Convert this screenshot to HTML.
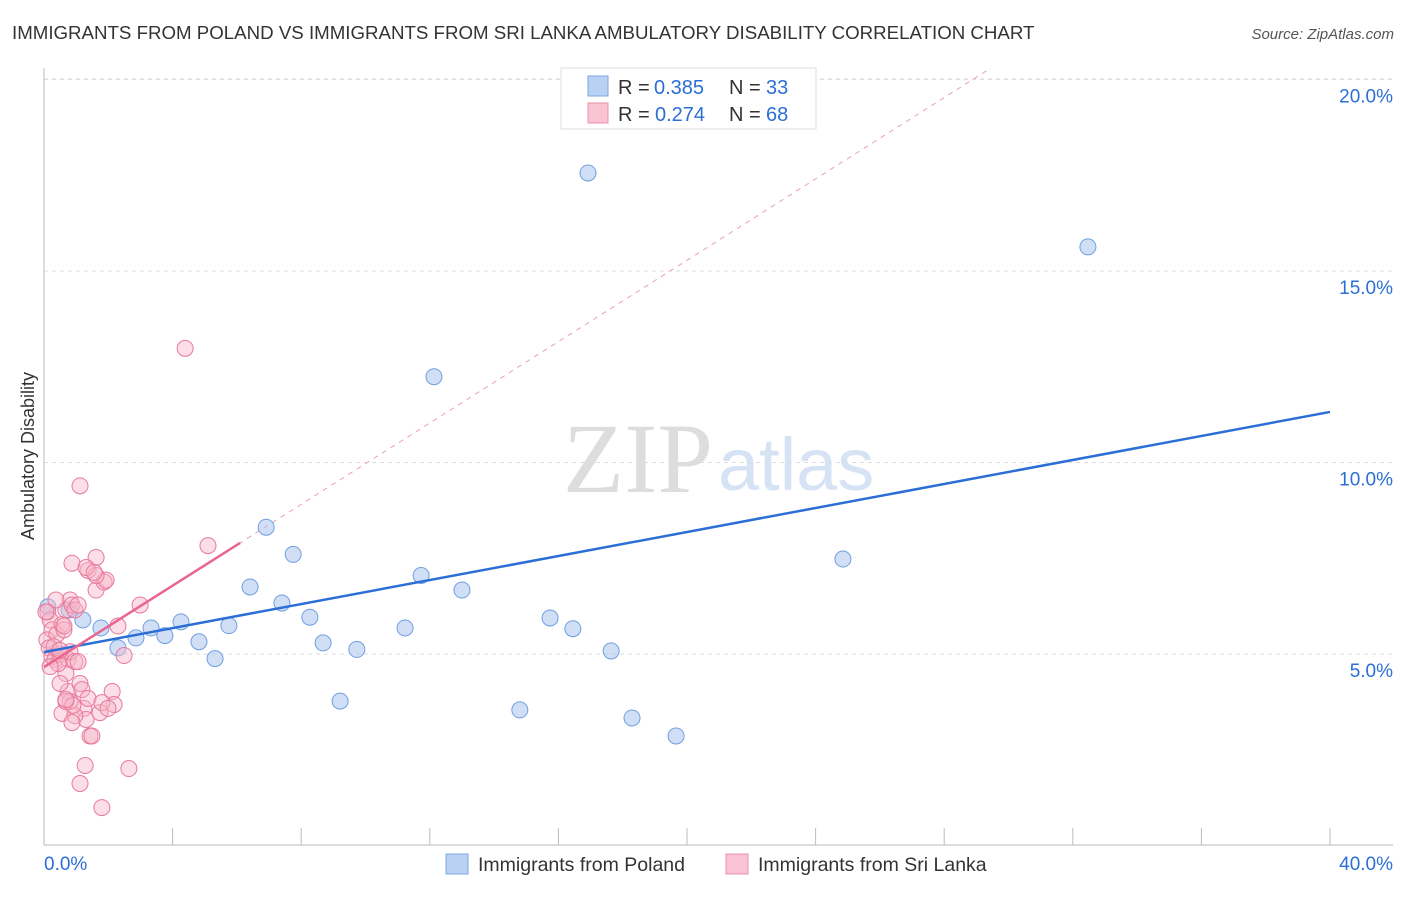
<!DOCTYPE html>
<html><head><meta charset="utf-8"><style>
body{margin:0;background:#fff;font-family:"Liberation Sans",sans-serif;}
svg text{font-family:"Liberation Sans",sans-serif;}
</style></head><body>
<svg width="1406" height="892" xmlns="http://www.w3.org/2000/svg">
<text x="12" y="39" font-size="18.7" fill="#333">IMMIGRANTS FROM POLAND VS IMMIGRANTS FROM SRI LANKA AMBULATORY DISABILITY CORRELATION CHART</text>
<text x="1394" y="39" font-size="15" fill="#555" text-anchor="end" font-style="italic">Source: ZipAtlas.com</text>
<text x="713" y="492" font-size="100" fill="#ddd" text-anchor="end" style="font-family:'Liberation Serif',serif">ZIP</text>
<text x="718" y="490" font-size="74" fill="#d6e3f5">atlas</text>
<g id="grid"></g>
<line x1="44" y1="68" x2="44" y2="845" stroke="#bbb"/>
<line x1="44" y1="845" x2="1393" y2="845" stroke="#bbb"/>
<g id="ticks"></g>
<text transform="translate(34,456) rotate(-90)" font-size="18" fill="#333" text-anchor="middle">Ambulatory Disability</text>
<g id="lines"></g>
<g id="pts"></g>
<rect x="561" y="68" width="255" height="61" fill="#fff" stroke="#ddd"/>
<rect x="588" y="76" width="20" height="20" fill="#b9d1f3" stroke="#7ea6e0"/>
<rect x="588" y="103" width="20" height="20" fill="#f9c3d3" stroke="#ec8fad"/>
<g font-size="20">
<text x="618" y="94" fill="#333">R =</text><text x="654" y="94" fill="#2b6fd6">0.385</text>
<text x="729" y="94" fill="#333">N =</text><text x="766" y="94" fill="#2b6fd6">33</text>
</g>
<g font-size="20">
<text x="618" y="121" fill="#333">R =</text><text x="655" y="121" fill="#2b6fd6">0.274</text>
<text x="729" y="121" fill="#333">N =</text><text x="766" y="121" fill="#2b6fd6">68</text>
</g>
<rect x="446" y="854" width="22" height="20" fill="#b9d1f3" stroke="#7ea6e0"/>
<text x="478" y="871" font-size="19.5" fill="#333">Immigrants from Poland</text>
<rect x="726" y="854" width="22" height="20" fill="#f9c3d3" stroke="#ec8fad"/>
<text x="758" y="871" font-size="19.5" fill="#333">Immigrants from Sri Lanka</text>
</svg>
<script>
const yTicks=[5,10,15,20];
const yTickLabels=["5.0%","10.0%","15.0%","20.0%"];
const xTickVals=[0,4,8,12,16,20,24,28,32,36,40];
const polandX=[0.12,0.78,1.21,1.77,2.30,2.86,3.33,3.76,4.26,4.82,5.32,5.75,6.41,6.91,7.40,7.75,8.27,8.68,9.21,9.73,11.23,11.73,12.13,13.00,14.80,15.74,16.45,16.92,17.64,18.29,19.66,24.85,32.47];
const polandY=[6.23,6.15,5.89,5.68,5.16,5.42,5.68,5.48,5.84,5.32,4.88,5.74,6.75,8.31,6.33,7.60,5.96,5.29,3.77,5.12,5.68,7.05,12.24,6.67,3.54,5.94,5.66,17.56,5.08,3.33,2.86,7.48,15.63];
const lankaX=[0.12,0.19,0.25,0.09,0.16,0.25,0.34,0.50,0.40,0.56,0.62,0.68,0.81,0.87,0.96,1.06,0.87,0.75,0.81,0.96,0.68,0.75,0.81,0.56,0.68,1.06,1.12,1.18,1.24,1.31,1.37,1.43,1.49,1.28,1.12,1.80,2.64,2.12,2.18,1.12,4.39,5.10,1.62,1.37,1.62,1.87,1.93,2.30,2.49,2.99,1.62,0.96,0.90,0.50,0.44,0.19,0.31,0.06,0.37,0.62,0.50,0.87,1.74,1.80,1.99,0.68,1.31,1.56];
const lankaY=[6.10,5.89,5.63,5.37,5.16,4.93,4.86,4.99,5.51,5.77,5.63,6.15,6.41,6.28,6.15,6.28,7.37,4.86,5.06,4.80,4.49,4.02,3.76,3.45,3.76,4.80,4.23,4.07,3.58,3.29,3.84,2.86,2.86,2.09,1.62,0.99,2.01,4.02,3.68,9.39,12.98,7.83,7.52,7.18,6.67,6.88,6.93,5.73,4.96,6.28,7.05,3.39,3.66,4.23,4.75,4.67,5.19,6.10,6.41,5.73,5.09,3.21,3.47,3.73,3.58,3.81,7.26,7.13];
const blueLine=[5.05,11.32];
const pinkB=4.66, pinkM=0.531;
const NS="http://www.w3.org/2000/svg";
const sx=v=>44+v*32.15, sy=v=>845.5-v*38.3;
function mk(t,a,p){const e=document.createElementNS(NS,t);for(const k in a)e.setAttribute(k,a[k]);p.appendChild(e);return e;}
const grid=document.getElementById('grid'),ticks=document.getElementById('ticks'),lines=document.getElementById('lines'),pts=document.getElementById('pts');
yTicks.forEach((v,i)=>{
  const l=mk('line',{x1:44,x2:1393,y1:sy(v),y2:sy(v),stroke:'#ddd','stroke-dasharray':'4,4'},grid);
  
  
  const t=mk('text',{x:1393,y:sy(v)+23,'font-size':19,fill:'#2b6fd6','text-anchor':'end'},ticks);
  t.textContent=yTickLabels[i];
  
  
});
const topLine=mk('line',{x1:44,x2:1393,y1:79,y2:79,stroke:'#ddd','stroke-dasharray':'4,4'},grid);


xTickVals.forEach(v=>{
  const l=mk('line',{x1:sx(v),x2:sx(v),y1:828,y2:845,stroke:'#bbb'},ticks);
  
  
});
[["0.0%",44,'start'],["40.0%",1393,'end']].forEach(a=>{
  const t=mk('text',{x:a[1],y:870,'font-size':19,fill:'#2b6fd6','text-anchor':a[2]},ticks);
  t.textContent=a[0];
  
  
});
const dEnd=(20.3-pinkB)/pinkM;
const pd=mk('line',{x1:sx(0),y1:sy(pinkB),x2:sx(dEnd),y2:sy(pinkB+pinkM*dEnd),stroke:'#eaa0b8','stroke-dasharray':'5,5'},lines);


polandX.forEach((x,i)=>{
  const c=mk('circle',{cx:sx(x),cy:sy(polandY[i]),r:8,fill:'rgba(169,196,238,0.55)',stroke:'#6f9fe0','stroke-width':1},pts);
  
  
});
lankaX.forEach((x,i)=>{
  const c=mk('circle',{cx:sx(x),cy:sy(lankaY[i]),r:8,fill:'rgba(247,181,201,0.45)',stroke:'#e8799c','stroke-width':1},pts);
  
  
});
const bl=mk('line',{x1:sx(0),y1:sy(blueLine[0]),x2:sx(40),y2:sy(blueLine[1]),stroke:'#2b6fd6','stroke-width':2.5},pts);


const pl=mk('line',{x1:sx(0),y1:sy(pinkB),x2:sx(6.1),y2:sy(pinkB+pinkM*6.1),stroke:'#e8668f','stroke-width':2.5},pts);


</script>
</body></html>
